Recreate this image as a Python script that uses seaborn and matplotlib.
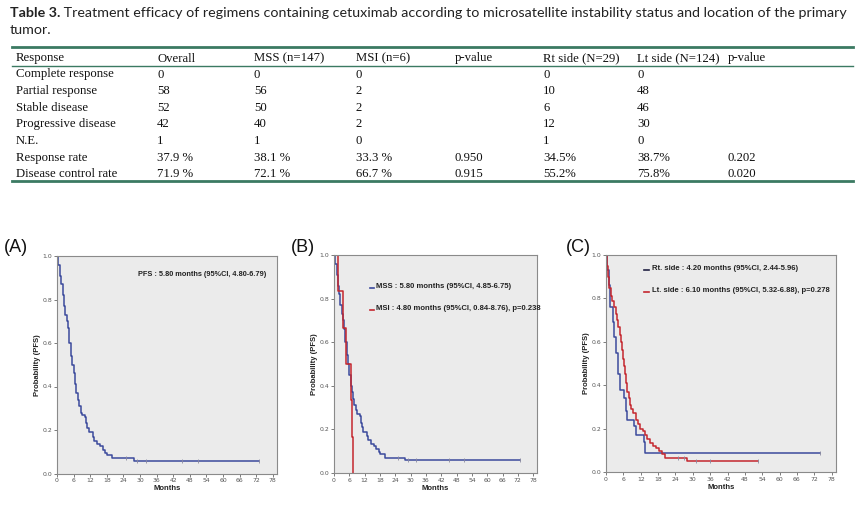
import numpy as np
import pandas as pd
import matplotlib
matplotlib.use("Agg")
import matplotlib.pyplot as plt
import seaborn as sns
from matplotlib.lines import Line2D

# ---------------- table data ----------------
header = ["Response", "Overall", "MSS (n=147)", "MSI (n=6)", "p-value",
          "Rt side (N=29)", "Lt side (N=124)", "p-value"]
response = ["Complete response", "Partial response", "Stable disease",
            "Progressive disease", "N.E.", "Response rate", "Disease control rate"]
overall = ["0", "58", "52", "42", "1", "37.9 %", "71.9 %"]
mss = ["0", "56", "50", "40", "1", "38.1 %", "72.1 %"]
msi = ["0", "2", "2", "2", "0", "33.3 %", "66.7 %"]
p_msi = ["", "", "", "", "", "0.950", "0.915"]
rt_side = ["0", "10", "6", "12", "1", "34.5%", "55.2%"]
lt_side = ["0", "48", "46", "30", "0", "38.7%", "75.8%"]
p_side = ["", "", "", "", "", "0.202", "0.020"]

# ---------------- KM data ----------------
time_all = [0, 0.5, 1.0, 1.5, 2.0, 2.5, 3.0, 3.5, 4.0, 4.5, 5.0, 5.5, 6.0, 6.5, 7.0,
            7.5, 8.0, 8.5, 9.0, 10.0, 10.5, 11.0, 11.5, 13.0, 13.5, 14.5, 15.5, 16.5,
            17.5, 18.0, 20.0, 28.0, 73.0]
surv_all = [1.0, 0.96, 0.91, 0.87, 0.82, 0.77, 0.73, 0.70, 0.67, 0.60, 0.54, 0.50, 0.46,
            0.41, 0.37, 0.34, 0.31, 0.28, 0.27, 0.26, 0.23, 0.21, 0.19, 0.17, 0.15, 0.135,
            0.125, 0.11, 0.095, 0.085, 0.07, 0.058, 0.058]
cens_all = [25, 29, 32, 45, 51, 73]

time_mss = [0, 0.5, 1.0, 1.5, 2.0, 2.5, 3.0, 3.5, 4.0, 4.5, 5.0, 5.5, 6.0, 6.5, 7.0,
            7.5, 8.0, 8.5, 9.0, 10.0, 10.5, 11.0, 11.5, 13.0, 13.5, 14.5, 15.5, 16.5,
            17.5, 18.0, 20.0, 28.0, 73.0]
surv_mss = [1.0, 0.96, 0.91, 0.86, 0.82, 0.77, 0.73, 0.70, 0.66, 0.60, 0.54, 0.50, 0.45,
            0.40, 0.37, 0.34, 0.31, 0.29, 0.27, 0.26, 0.23, 0.21, 0.19, 0.17, 0.15, 0.135,
            0.125, 0.11, 0.095, 0.085, 0.07, 0.058, 0.058]
cens_mss = [25, 29, 32, 45, 51, 73]

time_msi = [0, 1.6, 3.4, 4.8, 6.6, 7.0, 7.5]
surv_msi = [1.0, 0.833, 0.667, 0.5, 0.333, 0.167, 0.0]

time_rt = [0, 0.5, 0.9, 1.5, 2.3, 2.9, 3.5, 4.2, 4.7, 6.1, 6.9, 7.4, 9.8, 10.3, 13.1,
           13.6, 74.0]
surv_rt = [1.0, 0.93, 0.86, 0.76, 0.69, 0.62, 0.55, 0.45, 0.38, 0.34, 0.28, 0.24, 0.21,
           0.17, 0.14, 0.086, 0.086]
cens_rt = [74.0]

time_lt = [0, 0.4, 0.8, 1.2, 1.6, 2.2, 2.8, 3.3, 3.8, 4.3, 4.8, 5.3, 5.6, 5.9, 6.1, 6.5,
           6.9, 7.3, 7.8, 8.3, 8.8, 9.5, 10.3, 11.0, 11.6, 12.8, 13.4, 14.2, 15.2, 16.2,
           17.2, 18.2, 19.2, 20.5, 28.0, 52.5]
surv_lt = [1.0, 0.95, 0.90, 0.85, 0.81, 0.79, 0.76, 0.73, 0.70, 0.67, 0.63, 0.60, 0.56,
           0.52, 0.49, 0.45, 0.41, 0.37, 0.34, 0.31, 0.29, 0.27, 0.24, 0.22, 0.20, 0.19,
           0.17, 0.15, 0.135, 0.12, 0.11, 0.095, 0.085, 0.065, 0.052, 0.052]
cens_lt = [25, 27, 31, 36, 52.5]

x_ticks = list(range(0, 79, 6))
y_ticks = [0.0, 0.2, 0.4, 0.6, 0.8, 1.0]

# ---------------- figure ----------------
W, H = 857, 505
fig = plt.figure(figsize=(W / 100, H / 100), dpi=100)
fig.patch.set_facecolor("white")
renderer = fig.canvas.get_renderer()


def fx(x):
    return x / W


def fy(y):
    return 1 - y / H


def fit(t, target):
    w = t.get_window_extent(renderer=renderer).width
    t.set_fontsize(t.get_fontsize() * target / w)
    return t.get_fontsize()


# title
t1 = fig.text(fx(10), fy(17), "Table 3.", fontsize=10, fontweight="bold",
              family="Lato", color="#222222", va="baseline", ha="left")
rest = " Treatment efficacy of regimens containing cetuximab according to microsatellite instability status and location of the primary"
fs_full = fig.text(0, 0, "Table 3." + rest, fontsize=10, family="Lato")
fs = fit(fs_full, 838)
fs_full.remove()
t1.set_fontsize(fs)
bb = t1.get_window_extent(renderer=renderer)
fig.text(bb.x1 / W, fy(17), rest, fontsize=fs, family="Lato", color="#222222",
         va="baseline", ha="left")
fig.text(fx(10), fy(34), "tumor.", fontsize=fs, family="Lato", color="#222222",
         va="baseline", ha="left")

# table
green = "#3b7a62"
for yy, lw in [(47, 2.0), (66, 1.0), (181, 2.0)]:
    fig.add_artist(Line2D([fx(12), fx(853)], [fy(yy), fy(yy)], color=green, lw=lw))

cols_x = [16, 157, 254, 356, 455, 543, 637, 728]
columns = [response, overall, mss, msi, p_msi, rt_side, lt_side, p_side]
tfs = 9.2
for cx, h in zip(cols_x, header):
    fig.text(fx(cx), fy(61.5), h, fontsize=tfs, family="Liberation Serif",
             va="baseline", ha="left", color="#111111")
for cx, col in zip(cols_x, columns):
    for i, v in enumerate(col):
        fig.text(fx(cx), fy(77.5 + i * 16.6), v, fontsize=tfs, family="Liberation Serif",
                 va="baseline", ha="left", color="#111111")


# ---------------- KM panels ----------------
def make_ax(l, t, r, b):
    ax = fig.add_axes([fx(l), fy(b), (r - l) / W, (b - t) / H])
    ax.set_facecolor("#ebebeb")
    for sp in ax.spines.values():
        sp.set_color("#8a8a8a")
        sp.set_linewidth(0.8)
    ax.set_xlim(0, 79.5)
    ax.set_ylim(0, 1.0)
    ax.set_xticks(x_ticks)
    ax.set_xticklabels([str(v) for v in x_ticks])
    ax.set_yticks(y_ticks)
    ax.set_yticklabels(["%.1f" % v for v in y_ticks])
    ax.tick_params(length=2.5, width=0.6, colors="#666666", labelsize=4.4, pad=1,
                   labelcolor="#555555")
    ax.xaxis.set_label_coords(0.5, -12 / (b - t))
    ax.yaxis.set_label_coords(-16 / (r - l), 0.5)
    return ax


def km(ax, t, s, cens, color):
    df = pd.DataFrame({"Months": t, "Survival": s})
    sns.lineplot(data=df, x="Months", y="Survival", ax=ax, color=color,
                 drawstyle="steps-post", estimator=None, sort=False, linewidth=1.1)
    if cens:
        t_arr = np.array(t)
        s_arr = np.array(s)
        idx = np.searchsorted(t_arr, np.array(cens), side="right") - 1
        cdf = pd.DataFrame({"Months": cens, "Survival": s_arr[idx]})
        sns.scatterplot(data=cdf, x="Months", y="Survival", ax=ax, marker="|",
                        color="#8a8aa0", s=8, linewidth=0.6, zorder=3)
    ax.set_xlabel("Months", fontsize=5.5, fontweight="bold", family="Liberation Sans",
                  color="#222222", va="top")
    ax.set_ylabel("Probability (PFS)", fontsize=5.5, fontweight="bold",
                  family="Liberation Sans", color="#222222", va="bottom")


blue = "#3b4a9c"
red = "#c4262e"

axA = make_ax(57, 256, 277, 473.5)
km(axA, time_all, surv_all, cens_all, blue)
axB = make_ax(334, 255, 537, 473)
km(axB, time_mss, surv_mss, cens_mss, blue)
km(axB, time_msi, surv_msi, None, red)
axC = make_ax(606, 255, 836, 472)
km(axC, time_rt, surv_rt, cens_rt, blue)
km(axC, time_lt, surv_lt, cens_lt, red)

# panel labels
for x, lab in [(4, "(A)"), (291, "(B)"), (566, "(C)")]:
    fig.text(fx(x), fy(247), lab, fontsize=13, family="Liberation Sans",
             va="center", ha="left", color="#111111")

# annotations
ann_kw = dict(family="Liberation Sans", fontweight="bold", va="center", ha="left",
              color="#222222", fontsize=5)
ta = fig.text(fx(138), fy(274), "PFS : 5.80 months (95%CI, 4.80-6.79)", **ann_kw)
fit(ta, 131)

tb2 = fig.text(fx(376), fy(308), "MSI : 4.80 months (95%CI, 0.84-8.76), p=0.238", **ann_kw)
fsb = fit(tb2, 167)
ann_kw["fontsize"] = fsb
fig.text(fx(376), fy(286), "MSS : 5.80 months (95%CI, 4.85-6.75)", **ann_kw)
fig.add_artist(Line2D([fx(370), fx(374)], [fy(288), fy(288)], color=blue, lw=1.2))
fig.add_artist(Line2D([fx(370), fx(374)], [fy(310), fy(310)], color=red, lw=1.2))

ann_kw["fontsize"] = 5
tc2 = fig.text(fx(652), fy(290), "Lt. side : 6.10 months (95%CI, 5.32-6.88), p=0.278", **ann_kw)
fsc = fit(tc2, 179)
ann_kw["fontsize"] = fsc
fig.text(fx(652), fy(268), "Rt. side : 4.20 months (95%CI, 2.44-5.96)", **ann_kw)
fig.add_artist(Line2D([fx(644), fx(649)], [fy(270), fy(270)], color="#222244", lw=1.2))
fig.add_artist(Line2D([fx(644), fx(649)], [fy(292), fy(292)], color=red, lw=1.2))

fig.savefig("out.png", dpi=100, facecolor="white")
